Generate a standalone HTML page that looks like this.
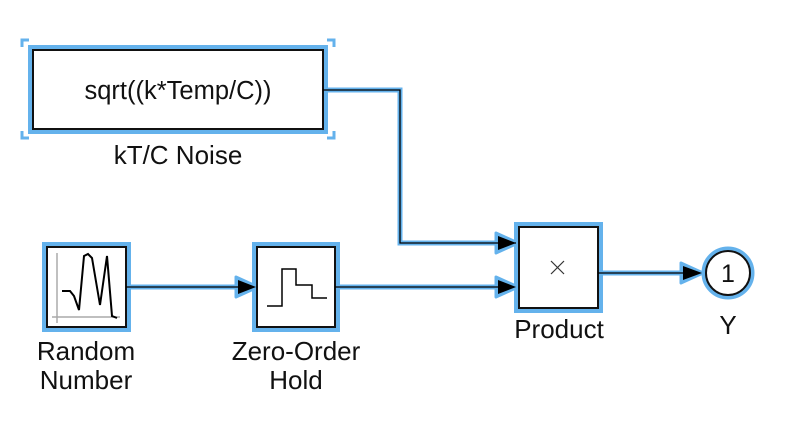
<!DOCTYPE html>
<html><head><style>
body{margin:0;background:#fff;}
svg{display:block;font-family:"Liberation Sans",Arial,sans-serif;}
</style></head><body>
<svg width="792" height="422" viewBox="0 0 792 422">
<g fill="none" stroke="#64b2ec" stroke-width="5">
  <rect x="30.5" y="47.5" width="295" height="84"/>
  <rect x="44.5" y="244.5" width="84" height="85"/>
  <rect x="254.5" y="244.5" width="83" height="85"/>
  <rect x="516.5" y="224.5" width="84" height="86"/>
  <circle cx="728" cy="273" r="24"/>
  <polyline points="323,90 400,90 400,243 505,243" stroke-width="5"/>
  <line x1="128" y1="287" x2="245" y2="287" stroke-width="5"/>
  <line x1="337" y1="287" x2="505" y2="287" stroke-width="5"/>
  <line x1="600" y1="273" x2="690" y2="273" stroke-width="5"/>
</g>
<g fill="#64b2ec" stroke="#64b2ec" stroke-width="3" stroke-linejoin="round">
  <polygon points="236,277 258,287 236,297"/>
  <polygon points="496,233 518,243 496,253"/>
  <polygon points="496,277 518,287 496,297"/>
  <polygon points="681,263 703,273 681,283"/>
</g>
<g fill="none" stroke="#64b2ec" stroke-width="3">
  <polyline points="22,47 22,40 29,40"/>
  <polyline points="327,40 334,40 334,47"/>
  <polyline points="22,131 22,138 29,138"/>
  <polyline points="327,138 334,138 334,131"/>
</g>
<g fill="#fff" stroke="#111" stroke-width="2">
  <rect x="33" y="50" width="290" height="79"/>
  <rect x="47" y="247" width="79" height="80"/>
  <rect x="257" y="247" width="78" height="80"/>
  <rect x="519" y="227" width="79" height="81"/>
  <circle cx="728" cy="273" r="22"/>
</g>
<g fill="none" stroke="#000" stroke-width="1.3">
  <polyline points="323,90 400,90 400,243 516,243"/>
  <line x1="126" y1="287" x2="240" y2="287"/>
  <line x1="335" y1="287" x2="500" y2="287"/>
  <line x1="598" y1="273" x2="685" y2="273"/>
</g>
<g fill="#000">
  <polygon points="238,280 256,287 238,294"/>
  <polygon points="498,236 516,243 498,250"/>
  <polygon points="498,280 516,287 498,294"/>
  <polygon points="683,266 702,273 683,280"/>
</g>
<g fill="none" stroke="#aaa" stroke-width="1.5">
  <polyline points="57,253 57,323"/>
  <polyline points="52,317 120,317"/>
</g>
<polyline fill="none" stroke="#000" stroke-width="2" points="62,291 70,291 74,296 79,310 84,256 88,254 92,258 100,305 107,256 112,316 117,318"/>
<polyline fill="none" stroke="#000" stroke-width="1.5" points="267,306 282,306 282,269 296,269 296,285 312,285 312,298 327,298"/>
<g stroke="#333" stroke-width="1.2"><line x1="551" y1="261" x2="564" y2="274"/><line x1="564" y1="261" x2="551" y2="274"/></g>
<g font-size="26" fill="#111" text-anchor="middle">
  <text x="178" y="99" font-size="25.5">sqrt((k*Temp/C))</text>
  <text x="178" y="164">kT/C Noise</text>
  <text x="86" y="360">Random</text>
  <text x="86" y="389">Number</text>
  <text x="296" y="360">Zero-Order</text>
  <text x="296" y="389">Hold</text>
  <text x="559" y="338">Product</text>
  <text x="728" y="334">Y</text>
  <text x="728" y="282" font-size="25">1</text>
</g>
</svg>
</body></html>
